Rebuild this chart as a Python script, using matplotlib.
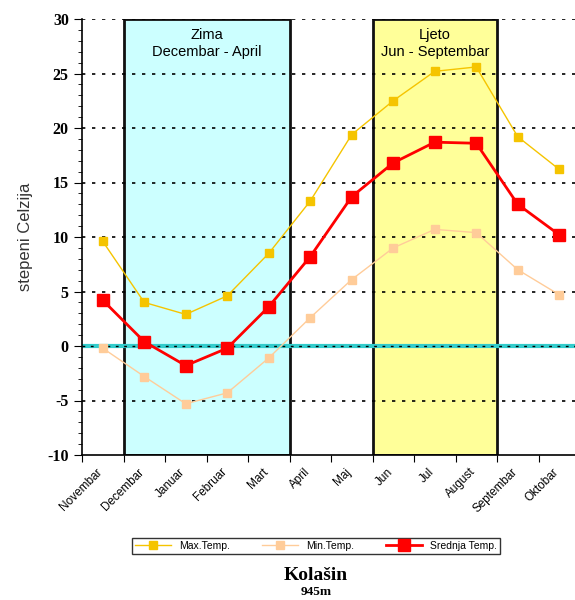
from matplotlib import pyplot as plt
from matplotlib.ticker import MultipleLocator
import numpy

plt.rcParams['axes.unicode_minus'] = False

months = ['Novembar', 'Decembar', 'Januar', 'Februar', 'Mart', 'April',
          'Maj', 'Jun', 'Jul', 'August', 'Septembar', 'Oktobar']
max_temp = [9.6, 4.0, 2.9, 4.6, 8.5, 13.3, 19.4, 22.5, 25.2, 25.6, 19.2, 16.2]
min_temp = [-0.2, -2.8, -5.3, -4.3, -1.1, 2.6, 6.1, 9.0, 10.7, 10.4, 7.0, 4.7]
mean_temp = [4.2, 0.4, -1.8, -0.2, 3.6, 8.2, 13.7, 16.8, 18.7, 18.6, 13.0, 10.2]

x = numpy.arange(len(months))

fig = plt.figure(figsize=(5.75, 6), dpi=100)
ax = fig.add_axes([82/575, 1-455/600, 498/575, 436/600])

# seasons
ax.axvspan(0.5, 4.5, facecolor='#ccffff', edgecolor='#111111', lw=2, zorder=1)
ax.axvspan(6.5, 9.5, facecolor='#ffff99', edgecolor='#111111', lw=2, zorder=1)
ax.text(2.5, 29.2, 'Zima\nDecembar - April', ha='center', va='top',
        fontsize=10.5, family='Liberation Sans', linespacing=1.3, zorder=5)
ax.text(8.0, 29.2, 'Ljeto\nJun - Septembar', ha='center', va='top',
        fontsize=10.5, family='Liberation Sans', linespacing=1.3, zorder=5)

ax.set_ylim(-10, 30)
ax.set_xlim(-0.5, 11.5)
for y in range(-5, 31, 5):
    if y != 0:
        ax.axhline(y, color='black', lw=1.2, ls=(0, (2, 4)), zorder=2)
ax.axhline(0, color='#33cccc', lw=3, zorder=2)
ax.axhline(0, color='black', lw=1.0, ls=(0, (2, 4)), zorder=2)

ax.plot(x, max_temp, color='#f5c400', lw=1, marker='s', ms=6, zorder=4, label='Max.Temp.')
ax.plot(x, min_temp, color='#ffcc99', lw=1, marker='s', ms=6, zorder=4, label='Min.Temp.')
ax.plot(x, mean_temp, color='#ff0000', lw=2, marker='s', ms=9, zorder=4, label='Srednja Temp.')

ax.yaxis.set_major_locator(MultipleLocator(5))
ax.yaxis.set_minor_locator(MultipleLocator(1))
ax.tick_params(axis='y', which='major', length=6, direction='out')
ax.tick_params(axis='y', which='minor', length=3, direction='out')
for lbl in ax.get_yticklabels():
    lbl.set_family('Liberation Serif')
    lbl.set_weight('bold')
    lbl.set_fontsize(11.5)

ax.set_xticks(numpy.arange(-0.5, 11.5, 1))
ax.set_xticklabels([])
ax.tick_params(axis='x', length=5)
for i, m in enumerate(months):
    ax.text(i + 0.05, -11.0, m, rotation=45, ha='right', va='top', fontsize=8.5,
            family='Liberation Sans', transform=ax.transData)

ax.spines['top'].set_visible(False)
ax.spines['right'].set_visible(False)
ax.spines['left'].set_linewidth(1.2)
ax.spines['bottom'].set_linewidth(1.2)

ax.set_ylabel('stepeni Celzija', fontsize=12, family='Liberation Sans', color='#333333', labelpad=10)

leg = fig.legend(loc='center', bbox_to_anchor=(316/575, 1-546/600), ncol=3,
                 prop={'family': 'Liberation Sans', 'size': 7.5}, frameon=True,
                 fancybox=False, edgecolor='black', handlelength=3.5, columnspacing=3,
                 borderpad=0.3)
leg.get_frame().set_linewidth(1)

fig.text(316/575, 1-575/600, 'Kolašin', ha='center', va='center', fontsize=14,
         family='Liberation Serif', weight='bold')
fig.text(316/575, 1-592/600, '945m', ha='center', va='center', fontsize=9.5,
         family='Liberation Serif', weight='bold')

plt.savefig('out.png')
